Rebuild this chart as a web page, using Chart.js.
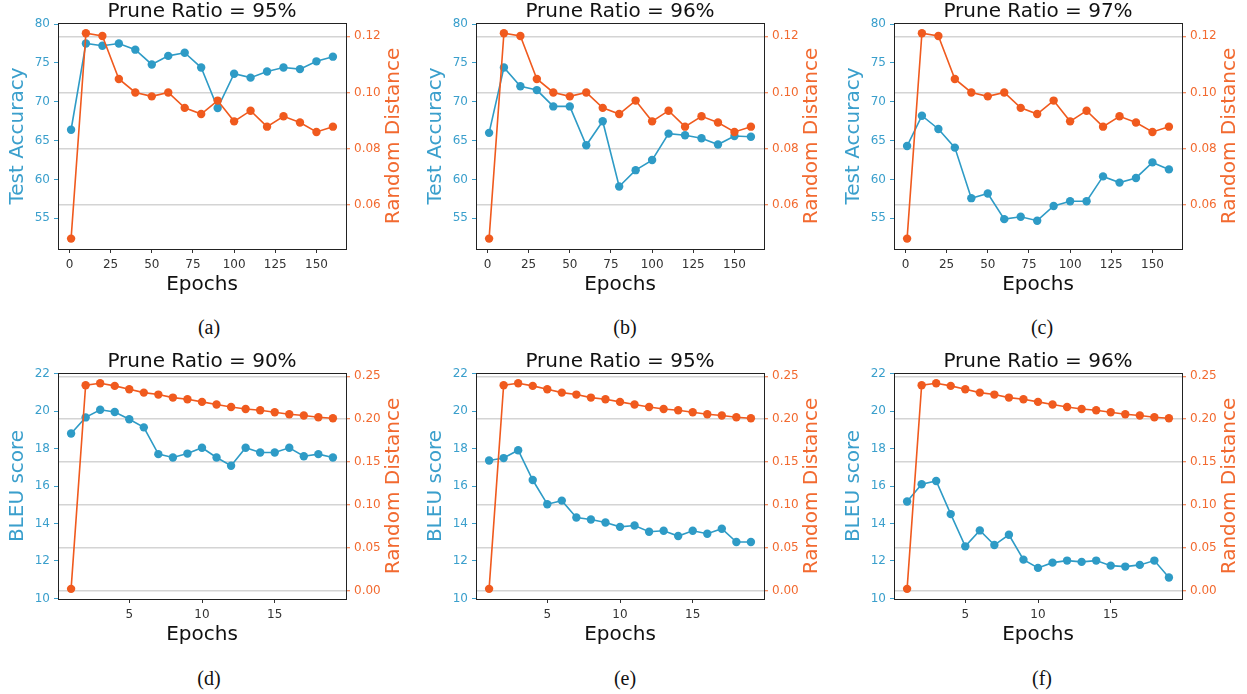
<!DOCTYPE html>
<html>
<head>
<meta charset="utf-8">
<script src="https://cdn.jsdelivr.net/npm/chart.js@4.4.1/dist/chart.umd.min.js"></script>
<style>
  html, body { margin: 0; padding: 0; background: #fff; }
  body { width: 1247px; height: 694px; position: relative; overflow: hidden; }
  .panel { position: absolute; width: 410px; height: 300px; }
  .cap { position: absolute; font-family: 'Liberation Serif', 'Times New Roman', serif; font-size: 20px; color: #111; transform: translate(-50%, -50%); white-space: nowrap; }
</style>
</head>
<body>
<div class="panel" style="left:0px;top:0px"><canvas id="pa"></canvas></div>
<div class="panel" style="left:418px;top:0px"><canvas id="pb"></canvas></div>
<div class="panel" style="left:836px;top:0px"><canvas id="pc"></canvas></div>
<div class="panel" style="left:0px;top:350px"><canvas id="pd"></canvas></div>
<div class="panel" style="left:418px;top:350px"><canvas id="pe"></canvas></div>
<div class="panel" style="left:836px;top:350px"><canvas id="pf"></canvas></div>
<div class="cap" style="left:209px;top:327px">(a)</div>
<div class="cap" style="left:625px;top:327px">(b)</div>
<div class="cap" style="left:1042px;top:327px">(c)</div>
<div class="cap" style="left:209px;top:678px">(d)</div>
<div class="cap" style="left:625px;top:678px">(e)</div>
<div class="cap" style="left:1042px;top:678px">(f)</div>
<script>
// ---- CIFAR runs: test accuracy and random distance per epoch ----
const epochsCifar = [1, 10, 20, 30, 40, 50, 60, 70, 80, 90, 100, 110, 120, 130, 140, 150, 160];
const accPrune95 = [66.4, 77.5, 77.2, 77.5, 76.7, 74.8, 75.9, 76.3, 74.4, 69.2, 73.6, 73.1, 73.9, 74.4, 74.2, 75.2, 75.8];
const accPrune96 = [66.0, 74.4, 72.0, 71.5, 69.4, 69.4, 64.4, 67.5, 59.1, 61.2, 62.5, 65.9, 65.7, 65.3, 64.5, 65.6, 65.5];
const accPrune97 = [64.3, 68.2, 66.5, 64.1, 57.6, 58.2, 54.9, 55.2, 54.7, 56.6, 57.2, 57.2, 60.4, 59.6, 60.2, 62.2, 61.3];
const distCifar = [0.0479, 0.1211, 0.1201, 0.1048, 0.1000, 0.0986, 0.1000, 0.0945, 0.0923, 0.0971, 0.0897, 0.0935, 0.0878, 0.0915, 0.0893, 0.0859, 0.0878];

// ---- NMT runs: BLEU score and random distance per epoch ----
const epochsNmt = [1, 2, 3, 4, 5, 6, 7, 8, 9, 10, 11, 12, 13, 14, 15, 16, 17, 18, 19];
const bleuPrune90 = [18.80, 19.66, 20.07, 19.95, 19.56, 19.13, 17.70, 17.52, 17.73, 18.04, 17.52, 17.08, 18.04, 17.79, 17.79, 18.04, 17.59, 17.70, 17.52];
const bleuPrune95 = [17.36, 17.49, 17.91, 16.32, 15.03, 15.22, 14.32, 14.21, 14.05, 13.82, 13.89, 13.56, 13.61, 13.33, 13.61, 13.45, 13.72, 13.01, 13.01];
const bleuPrune96 = [15.17, 16.09, 16.27, 14.50, 12.78, 13.63, 12.85, 13.40, 12.07, 11.63, 11.91, 12.02, 11.95, 12.02, 11.75, 11.70, 11.79, 12.02, 11.12];
const distNmt = [0.0027, 0.2395, 0.2419, 0.2388, 0.2349, 0.2310, 0.2287, 0.2252, 0.2233, 0.2202, 0.2171, 0.2143, 0.2120, 0.2105, 0.2081, 0.2058, 0.2043, 0.2023, 0.2012];

// ---- tick labels ----
const cifarEpochTicks = [0, 25, 50, 75, 100, 125, 150];
const accTicks = [55, 60, 65, 70, 75, 80];
const distCifarTicks = [0.06, 0.08, 0.10, 0.12];
const nmtEpochTicks = [5, 10, 15];
const bleuTicks = [10, 12, 14, 16, 18, 20, 22];
const distNmtTicks = [0.00, 0.05, 0.10, 0.15, 0.20, 0.25];

const panelTitles = ['Prune Ratio = 95%', 'Prune Ratio = 96%', 'Prune Ratio = 97%',
                     'Prune Ratio = 90%', 'Prune Ratio = 95%', 'Prune Ratio = 96%'];

const BLUE = '#2E9BC6', BLUE_TXT = '#3A9FCC';
const ORANGE = '#F05A1E', ORANGE_TXT = '#F26A30';
const FONT = "'DejaVu Sans', sans-serif";

Chart.defaults.font.family = FONT;
Chart.defaults.font.size = 12;
Chart.defaults.animation = false;

// rotated label for the secondary (right) axis, reading bottom-to-top
const rightTitle = {
  id: 'rightTitle',
  afterDraw(chart, args, opts) {
    const { ctx, chartArea: a } = chart;
    ctx.save();
    ctx.translate(a.right + opts.offset, (a.top + a.bottom) / 2);
    ctx.rotate(-Math.PI / 2);
    ctx.font = '20px ' + FONT;
    ctx.fillStyle = opts.color;
    ctx.textAlign = 'center';
    ctx.textBaseline = 'middle';
    ctx.fillText(opts.text, 0, 0);
    ctx.restore();
  }
};

// box frame around the plotting area
const frame = {
  id: 'frame',
  afterDatasetsDraw(chart) {
    const { ctx, chartArea: a } = chart;
    ctx.save();
    ctx.strokeStyle = '#222';
    ctx.lineWidth = 1;
    ctx.strokeRect(Math.round(a.left) + 0.5, Math.round(a.top) + 0.5,
                   Math.round(a.right - a.left), Math.round(a.bottom - a.top));
    ctx.restore();
  }
};

function fixedTicks(values) {
  return scale => { scale.ticks = values.map(v => ({ value: v })); };
}

function pts(xs, ys) { return xs.map((x, i) => ({ x: x, y: ys[i] })); }

function makePanel(id, title, xs, leftVals, rightVals, s) {
  new Chart(document.getElementById(id), {
    type: 'line',
    data: {
      datasets: [
        { data: pts(xs, rightVals), yAxisID: 'y2', order: 0,
          borderColor: ORANGE, backgroundColor: ORANGE, borderWidth: 1.6,
          pointRadius: 4.2, pointBorderWidth: 0, tension: 0 },
        { data: pts(xs, leftVals), yAxisID: 'y', order: 1,
          borderColor: BLUE, backgroundColor: BLUE, borderWidth: 1.6,
          pointRadius: 4.2, pointBorderWidth: 0, tension: 0 }
      ]
    },
    plugins: [rightTitle, frame],
    options: {
      responsive: true,
      maintainAspectRatio: false,
      devicePixelRatio: 1,
      layout: { padding: 0 },
      plugins: {
        legend: { display: false },
        tooltip: { enabled: false },
        title: { display: true, text: title, fullSize: false, color: '#111',
                 font: { size: 20, weight: 'normal', lineHeight: 1, family: FONT }, padding: { top: 2, bottom: 1 } },
        rightTitle: { text: 'Random Distance', color: ORANGE_TXT, offset: 48 }
      },
      scales: {
        x: {
          type: 'linear', min: s.xMin, max: s.xMax,
          afterBuildTicks: fixedTicks(s.xTicks),
          afterFit: sc => { sc.height = 51; },
          border: { display: false },
          grid: { drawOnChartArea: false, drawTicks: true, tickLength: 4, tickColor: '#333', tickWidth: 1 },
          ticks: { color: '#333', padding: 5, maxRotation: 0, autoSkip: false, font: { size: 12 } },
          title: { display: true, text: 'Epochs', color: '#111', font: { size: 20, lineHeight: 1 }, padding: { top: 0, bottom: 5 } }
        },
        y: {
          type: 'linear', position: 'left', min: s.yMin, max: s.yMax,
          afterBuildTicks: fixedTicks(s.yTicks),
          afterFit: sc => { sc.width = 58; },
          border: { display: false },
          grid: { drawOnChartArea: false, drawTicks: true, tickLength: 4, tickColor: BLUE_TXT, tickWidth: 1 },
          ticks: { color: BLUE_TXT, padding: 4, autoSkip: false, font: { size: 12 },
                   callback: v => String(v) },
          title: { display: true, text: s.yLabel, color: BLUE_TXT, font: { size: 20, lineHeight: 1 }, padding: { top: 8, bottom: 0 } }
        },
        y2: {
          type: 'linear', position: 'right', min: s.y2Min, max: s.y2Max,
          afterBuildTicks: fixedTicks(s.y2Ticks),
          afterFit: sc => { sc.width = 64; },
          border: { display: false },
          grid: { drawOnChartArea: true, color: '#d4d4d4', lineWidth: 1.5,
                  drawTicks: true, tickLength: 4, tickColor: ORANGE_TXT, tickWidth: 1 },
          ticks: { color: ORANGE_TXT, padding: 4, autoSkip: false, font: { size: 12 },
                   callback: v => v.toFixed(2) }
        }
      }
    }
  });
}

const cifarAxes = {
  xMin: -6.95, xMax: 167.95, xTicks: cifarEpochTicks,
  yMin: 51.06, yMax: 80.13, yTicks: accTicks, yLabel: 'Test Accuracy',
  y2Min: 0.0442, y2Max: 0.12475, y2Ticks: distCifarTicks
};
const nmtAxes = {
  xMin: 0.1, xMax: 19.9, xTicks: nmtEpochTicks,
  yMin: 9.97, yMax: 22.03, yTicks: bleuTicks, yLabel: 'BLEU score',
  y2Min: -0.0091, y2Max: 0.2538, y2Ticks: distNmtTicks
};

makePanel('pa', panelTitles[0], epochsCifar, accPrune95, distCifar, cifarAxes);
makePanel('pb', panelTitles[1], epochsCifar, accPrune96, distCifar, cifarAxes);
makePanel('pc', panelTitles[2], epochsCifar, accPrune97, distCifar, cifarAxes);
makePanel('pd', panelTitles[3], epochsNmt, bleuPrune90, distNmt, nmtAxes);
makePanel('pe', panelTitles[4], epochsNmt, bleuPrune95, distNmt, nmtAxes);
makePanel('pf', panelTitles[5], epochsNmt, bleuPrune96, distNmt, nmtAxes);
</script>
</body>
</html>
